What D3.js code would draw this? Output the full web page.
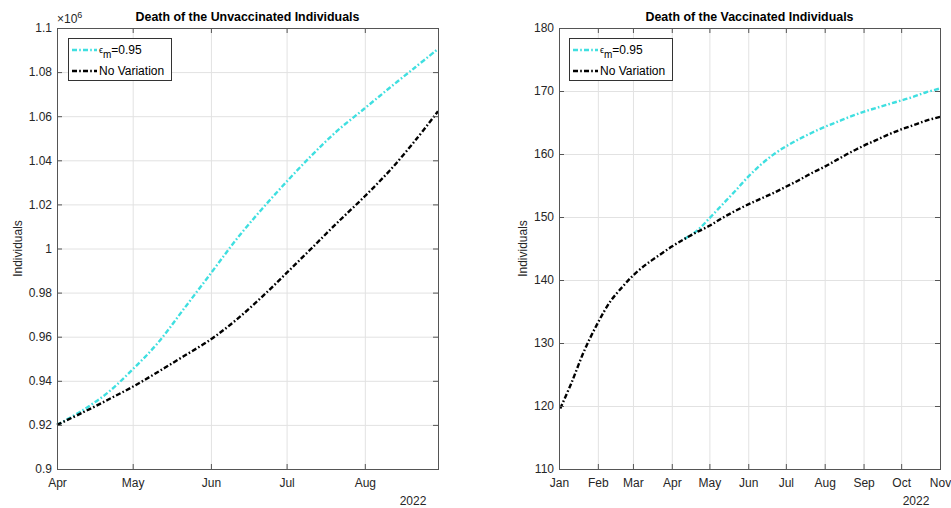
<!DOCTYPE html>
<html>
<head>
<meta charset="utf-8">
<script src="https://cdn.jsdelivr.net/npm/d3@7"></script>
<style>
  html, body { margin: 0; padding: 0; background: #fff; }
  svg { display: block; font-family: "Liberation Sans", Arial, Helvetica, sans-serif; }
  .tick text { fill: #262626; font-size: 12px; }
</style>
</head>
<body>
<svg id="chart" width="951" height="508"></svg>
<script>
// ---- Unvaccinated deaths (individuals), Apr–Aug 2022 ----
const unvacDates = ["2022-04-01","2022-04-11","2022-04-21","2022-05-01","2022-05-11","2022-05-21",
  "2022-06-01","2022-06-11","2022-06-21","2022-07-01","2022-07-11","2022-07-21",
  "2022-08-01","2022-08-11","2022-08-21","2022-08-30"];
const unvacEps = [920000, 926500, 934500, 945200, 957200, 972200,
  988800, 1004000, 1017600, 1030300, 1042300, 1053300,
  1063600, 1073000, 1082200, 1090500];
const unvacBase = [920000, 925500, 931300, 937300, 944000, 951000,
  958800, 967600, 977800, 988900, 1000200, 1011600,
  1023700, 1035500, 1049000, 1062200];

// ---- Vaccinated deaths (individuals), Jan–Nov 2022 ----
const vacBaseDates = ["2022-01-02","2022-01-11","2022-01-21","2022-02-01","2022-02-11","2022-02-21",
  "2022-03-01","2022-03-11","2022-03-21","2022-04-01","2022-04-11","2022-04-21",
  "2022-05-01","2022-05-11","2022-05-21","2022-06-01","2022-06-11","2022-06-21",
  "2022-07-01","2022-07-11","2022-07-21","2022-08-01","2022-08-11","2022-08-21",
  "2022-09-01","2022-09-11","2022-09-21","2022-10-01","2022-10-11","2022-10-21","2022-11-01"];
const vacBase = [119.6, 123.7, 128.7, 133.2, 136.6, 139.0,
  140.7, 142.4, 143.8, 145.3, 146.5, 147.6,
  148.6, 149.8, 150.9, 152.0, 152.9, 153.8,
  154.8, 155.8, 156.9, 158.0, 159.1, 160.2,
  161.3, 162.2, 163.1, 163.9, 164.6, 165.3, 165.9];
const vacEpsDates = ["2022-04-11","2022-04-21","2022-05-01","2022-05-11","2022-05-21","2022-06-01",
  "2022-06-11","2022-06-21","2022-07-01","2022-07-11","2022-07-21","2022-08-01",
  "2022-08-11","2022-08-21","2022-09-01","2022-09-11","2022-09-21","2022-10-01",
  "2022-10-11","2022-10-21","2022-11-01"];
const vacEps = [146.5, 147.8, 149.8, 151.9, 154.0, 156.4,
  158.3, 159.9, 161.2, 162.3, 163.3, 164.3,
  165.1, 165.9, 166.7, 167.3, 167.9, 168.5,
  169.1, 169.8, 170.4];

// ---- Axis ticks ----
const unvacMonthTicks = ["2022-04-01","2022-05-01","2022-06-01","2022-07-01","2022-08-01"];
const vacMonthTicks = ["2022-01-01","2022-02-01","2022-03-01","2022-04-01","2022-05-01","2022-06-01",
  "2022-07-01","2022-08-01","2022-09-01","2022-10-01","2022-11-01"];
const unvacYTicks = [0.9, 0.92, 0.94, 0.96, 0.98, 1, 1.02, 1.04, 1.06, 1.08, 1.1];
const vacYTicks = [110, 120, 130, 140, 150, 160, 170, 180];

const seriesNames = ["No Variation"];
const epsColor = "#3fdfe0";
const baseColor = "#000000";
const dash = "5,2.2,1.6,2.2";

const parse = d3.utcParse("%Y-%m-%d");
const svg = d3.select("#chart");

function panel(opt) {
  const { x0, x1, y0, y1 } = opt;
  const x = d3.scaleUtc().domain(opt.xDomain).range([x0, x1]);
  const y = d3.scaleLinear().domain(opt.yDomain).range([y1, y0]);
  const g = svg.append("g");
  const xt = opt.xTicks.map(parse);
  const yt = opt.yTicks.map(v => v * opt.yMult);

  // grid
  g.append("g").attr("transform", `translate(0,${y1})`)
    .call(d3.axisBottom(x).tickValues(xt).tickSize(-(y1 - y0)).tickFormat(""))
    .call(a => a.select(".domain").remove())
    .selectAll("line").attr("stroke", "#e2e2e2");
  g.append("g").attr("transform", `translate(${x0},0)`)
    .call(d3.axisLeft(y).tickValues(yt).tickSize(-(x1 - x0)).tickFormat(""))
    .call(a => a.select(".domain").remove())
    .selectAll("line").attr("stroke", "#e2e2e2");

  // series
  const line = d3.line().x(d => x(d[0])).y(d => y(d[1])).curve(d3.curveCatmullRom.alpha(0.5));
  opt.series.forEach(s => {
    const pts = s.dates.map((d, i) => [parse(d), s.values[i]]);
    g.append("path").datum(pts)
      .attr("d", line)
      .attr("fill", "none")
      .attr("stroke", s.color)
      .attr("stroke-width", 2.4)
      .attr("stroke-dasharray", dash);
  });

  // axes with inward ticks on all four sides
  const tk = 5;
  g.append("g").attr("transform", `translate(0,${y1})`)
    .call(d3.axisBottom(x).tickValues(xt).tickSizeInner(-tk).tickSizeOuter(0).tickPadding(9)
      .tickFormat(d3.utcFormat("%b")))
    .call(a => a.select(".domain").remove())
    .call(a => a.selectAll("line").attr("stroke", "#555"));
  g.append("g").attr("transform", `translate(0,${y0})`)
    .call(d3.axisTop(x).tickValues(xt).tickSizeInner(-tk).tickSizeOuter(0).tickFormat(""))
    .call(a => a.select(".domain").remove())
    .call(a => a.selectAll("line").attr("stroke", "#555"));
  g.append("g").attr("transform", `translate(${x0},0)`)
    .call(d3.axisLeft(y).tickValues(yt).tickSizeInner(-tk).tickSizeOuter(0).tickPadding(5)
      .tickFormat(v => d3.format("~g")(+(v / opt.yMult).toFixed(4))))
    .call(a => a.select(".domain").remove())
    .call(a => a.selectAll("line").attr("stroke", "#555"));
  g.append("g").attr("transform", `translate(${x1},0)`)
    .call(d3.axisRight(y).tickValues(yt).tickSizeInner(-tk).tickSizeOuter(0).tickFormat(""))
    .call(a => a.select(".domain").remove())
    .call(a => a.selectAll("line").attr("stroke", "#555"));
  g.selectAll(".tick text").attr("font-size", 12).attr("fill", "#262626");

  // box
  g.append("rect").attr("x", x0 + 0.5).attr("y", y0 + 0.5)
    .attr("width", x1 - x0).attr("height", y1 - y0)
    .attr("fill", "none").attr("stroke", "#555");

  // title
  g.append("text").attr("x", (x0 + x1) / 2).attr("y", y0 - 7)
    .attr("text-anchor", "middle").attr("font-weight", "bold").attr("font-size", 12.4)
    .attr("fill", "#000").text(opt.title);

  // y label
  g.append("text").attr("transform", `translate(${x0 - opt.yLabelOff},${(y0 + y1) / 2}) rotate(-90)`)
    .attr("text-anchor", "middle").attr("font-size", 12).attr("fill", "#262626").text("Individuals");

  // year label under the last tick
  g.append("text").attr("x", opt.yearX).attr("y", y1 + 36)
    .attr("text-anchor", "middle").attr("font-size", 12).attr("fill", "#262626").text("2022");

  // legend
  const lg = g.append("g").attr("transform", `translate(${x0 + opt.legendOff},${y0 + 10})`);
  lg.append("rect").attr("x", 0.5).attr("y", 0.5).attr("width", 103).attr("height", 42)
    .attr("fill", "#fff").attr("stroke", "#333").attr("stroke-width", 1);
  const items = [
    { color: epsColor, label: "eps" },
    { color: baseColor, label: seriesNames[0] }
  ];
  items.forEach((it, i) => {
    const cy = 12 + i * 21;
    lg.append("line").attr("x1", 4).attr("x2", 29).attr("y1", cy).attr("y2", cy)
      .attr("stroke", it.color).attr("stroke-width", 2.4).attr("stroke-dasharray", dash);
    const t = lg.append("text").attr("x", 31).attr("y", cy + 4).attr("font-size", 12).attr("fill", "#000");
    if (it.label === "eps") {
      t.append("tspan").attr("font-size", 9).attr("dy", -1).text("\u03f5");
      t.append("tspan").attr("font-size", 10).attr("dy", 5).text("m");
      t.append("tspan").attr("dy", -4).text("=0.95");
    } else {
      t.text(it.label);
    }
  });

  if (opt.exponent) {
    const e = g.append("text").attr("x", x0).attr("y", y0 - 5).attr("font-size", 12).attr("fill", "#262626");
    e.append("tspan").text("\u00d710");
    e.append("tspan").attr("font-size", 9).attr("dy", -5).text("6");
  }
}

panel({
  x0: 57, x1: 438, y0: 28, y1: 469,
  xDomain: [parse("2022-04-01"), parse("2022-08-30")],
  yDomain: [900000, 1100000], yMult: 1e6,
  xTicks: unvacMonthTicks, yTicks: unvacYTicks,
  title: "Death of the Unvaccinated Individuals",
  yLabelOff: 35, yearX: 413, legendOff: 11, exponent: true,
  series: [
    { dates: unvacDates, values: unvacEps, color: epsColor },
    { dates: unvacDates, values: unvacBase, color: baseColor }
  ]
});

panel({
  x0: 559, x1: 940, y0: 28, y1: 469,
  xDomain: [parse("2022-01-01"), parse("2022-11-01")],
  yDomain: [110, 180], yMult: 1,
  xTicks: vacMonthTicks, yTicks: vacYTicks,
  title: "Death of the Vaccinated Individuals",
  yLabelOff: 32, yearX: 916, legendOff: 10, exponent: false,
  series: [
    { dates: vacEpsDates, values: vacEps, color: epsColor },
    { dates: vacBaseDates, values: vacBase, color: baseColor }
  ]
});
</script>
</body>
</html>
